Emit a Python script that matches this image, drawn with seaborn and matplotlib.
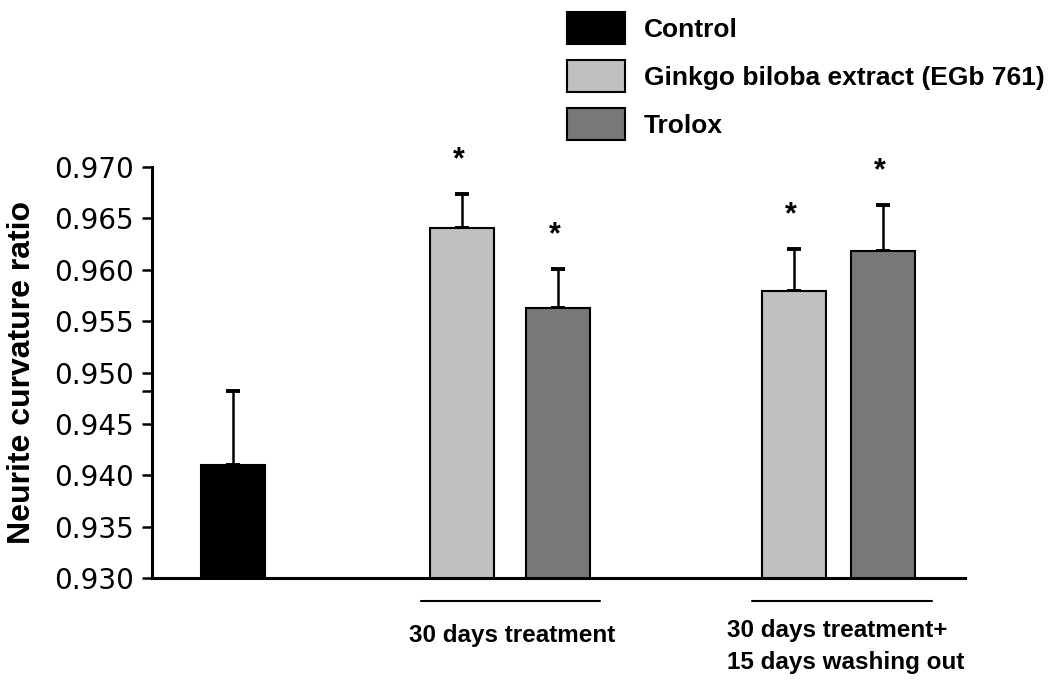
import numpy as np
import pandas as pd
import matplotlib
matplotlib.use("Agg")
import matplotlib.pyplot as plt
import seaborn as sns
from matplotlib.patches import Patch

# values
groups = ["Control", "Ginkgo biloba extract (EGb 761)", "Trolox",
          "Ginkgo biloba extract (EGb 761)", "Trolox"]
means = [0.9410, 0.9641, 0.9563, 0.9579, 0.9618]
upper_err = [0.0072, 0.0033, 0.0038, 0.0041, 0.0045]
significant = [False, True, True, True, True]
legend_labels = ["Control", "Ginkgo biloba extract (EGb 761)", "Trolox"]
period_labels = ["30 days treatment", "30 days treatment+\n15 days washing out"]
yticks = [0.930, 0.935, 0.940, 0.945, 0.950, 0.955, 0.960, 0.965, 0.970]

# layout (bar centres along the x axis)
positions = [1.00, 3.81, 4.99, 7.90, 8.99]
colors = {"Control": "#000000",
          "Ginkgo biloba extract (EGb 761)": "#c0c0c0",
          "Trolox": "#787878"}

df = pd.DataFrame({"pos": positions, "group": groups, "mean": means})

sns.set_style("white")
plt.rcParams["font.family"] = ["Liberation Sans", "DejaVu Sans"]
plt.rcParams["text.color"] = "black"
plt.rcParams["ytick.color"] = "black"
plt.rcParams["axes.labelcolor"] = "black"

fig = plt.figure(figsize=(10.5, 6.99), dpi=100)
ax = fig.add_axes([152 / 1050, 1 - 578 / 699, (965 - 152) / 1050, (578 - 167) / 699])

min_gap = np.min(np.diff(sorted(positions)))
sns.barplot(data=df, x="pos", y="mean", hue="group", palette=colors,
            native_scale=True, dodge=False, width=0.79 / min_gap,
            edgecolor="black", linewidth=1.5, legend=False, ax=ax, zorder=2)

ax.errorbar(positions, means, yerr=[np.zeros(len(means)), upper_err],
            fmt="none", ecolor="black", elinewidth=1.8, capsize=5,
            capthick=2.8, zorder=1)

for x, m, e, s in zip(positions, means, upper_err, significant):
    if s:
        ax.text(x - 0.04, m + e + 0.0018, "*", ha="center", va="bottom",
                fontsize=22, fontweight="bold", clip_on=False)

ax.set_xlim(0, 10)
ax.set_ylim(0.930, 0.970)
ax.set_yticks(yticks)
ax.set_yticklabels([f"{t:.3f}" for t in yticks], family="DejaVu Sans", fontsize=20)
ax.set_yticks([means[0] + upper_err[0]], minor=True)
ax.tick_params(axis="y", which="both", direction="out", length=7, width=1.8,
               left=True, pad=6, colors="black")
ax.set_xticks([])
ax.set_xlabel("")
ax.set_ylabel("Neurite curvature ratio", fontsize=23, fontweight="bold", labelpad=12)

for side in ["top", "right"]:
    ax.spines[side].set_visible(False)
for side in ["left", "bottom"]:
    ax.spines[side].set_linewidth(2.2)
    ax.spines[side].set_color("black")

# period underlines and labels below the axis
tr = ax.get_xaxis_transform()
ax.plot([3.31, 5.51], [-0.056, -0.056], color="black", lw=1.5, transform=tr, clip_on=False)
ax.plot([7.38, 9.59], [-0.056, -0.056], color="black", lw=1.5, transform=tr, clip_on=False)
ax.text(4.43, -0.139, period_labels[0], transform=tr, ha="center", va="center",
        fontsize=17.5, fontweight="bold")
ax.text(7.07, -0.100, period_labels[1], transform=tr, ha="left", va="top",
        fontsize=17.5, fontweight="bold", linespacing=1.5)

handles = [Patch(facecolor=colors[l], edgecolor="black", linewidth=1.5) for l in legend_labels]
fig.legend(handles, legend_labels, loc="upper left", bbox_to_anchor=(567 / 1050, 1 - 12 / 699),
           frameon=False, borderpad=0, borderaxespad=0, handlelength=2.2,
           handleheight=1.5, labelspacing=0.6, handletextpad=0.7,
           prop={"weight": "bold", "size": 19})

fig.savefig("out.png", dpi=100)
